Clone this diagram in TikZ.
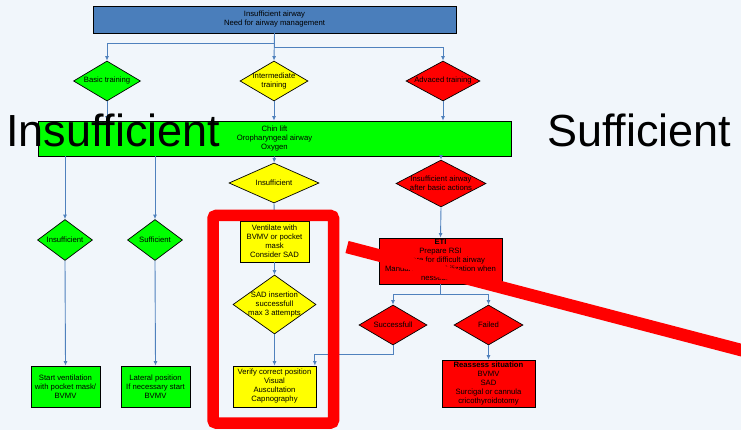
\documentclass[tikz,border=0pt]{standalone}
\usepackage{fontspec}
\setmainfont{Liberation Sans}
\usetikzlibrary{shapes.geometric,arrows.meta}

\definecolor{bgblue}{RGB}{241,246,251}
\definecolor{topblue}{RGB}{74,126,187}
\definecolor{linkblue}{RGB}{79,129,189}
\definecolor{boxgreen}{RGB}{0,255,0}
\definecolor{boxyellow}{RGB}{255,255,0}
\definecolor{boxred}{RGB}{255,0,0}

\begin{document}
\begin{tikzpicture}[x=1pt,y=-1pt,
  txt/.style={font=\fontsize{7.7}{9}\selectfont,align=center,text=black},
  box/.style={draw=black,line width=0.7pt,inner sep=0pt,txt},
  dia/.style={diamond,draw=black,line width=0.7pt,inner sep=0pt},
  conn/.style={draw=linkblue,line width=0.9pt,-{Latex[length=4.5pt,width=4pt]}},
  big/.style={font=\fontsize{45}{45}\selectfont,anchor=base west,inner sep=0pt,text=black}]
 \path[use as bounding box,fill=bgblue] (0,0) rectangle (741,430);

 % top of the chart
 \node[box,fill=topblue,minimum width=363,minimum height=27] (top) at (274.5,19.5) {Insufficient airway\\Need for airway management};
 \node[dia,fill=boxgreen,minimum width=67,minimum height=40,label={[txt]center:Basic training}] (basic) at (107,81) {};
 \node[dia,fill=boxyellow,minimum width=68,minimum height=40,label={[txt]center:Intermediate\\training}] (inter) at (274,81) {};
 \node[dia,fill=boxred,minimum width=74,minimum height=40,label={[txt]center:Advaced training}] (adv) at (443,81) {};
 \node[box,fill=boxgreen,minimum width=473,minimum height=35] (chin) at (274.5,138.5) {Chin lift\\Oropharyngeal airway\\Oxygen};

 % basic training
 \node[dia,fill=boxgreen,minimum width=55,minimum height=41,label={[txt]center:Insufficient}] (insL) at (65,240) {};
 \node[dia,fill=boxgreen,minimum width=55,minimum height=41,label={[txt]center:Sufficient}] (sufL) at (155,240) {};
 \node[box,fill=boxgreen,minimum width=69,minimum height=41] (startv) at (65.5,386.5) {Start ventilation\\with pocket mask/\\BVMV};
 \node[box,fill=boxgreen,minimum width=69,minimum height=41] (lateral) at (155.5,386.5) {Lateral position\\If necessary start\\BVMV};

 % intermediate training
 \node[dia,fill=boxyellow,minimum width=90,minimum height=40,label={[txt]center:Insufficient}] (insM) at (274,183) {};
 \node[box,fill=boxyellow,minimum width=69,minimum height=41] (vent) at (274.5,241.5) {Ventilate with\\BVMV or pocket\\mask\\Consider SAD};
 \node[dia,fill=boxyellow,minimum width=83,minimum height=59,label={[txt]center:SAD insertion\\successfull\\max 3 attempts}] (sad) at (274.5,304.5) {};
 \node[box,fill=boxyellow,minimum width=83,minimum height=41] (verify) at (274.5,386.5) {Verify correct position\\Visual\\Auscultation\\Capnography};

 % advanced training
 \node[dia,fill=boxred,minimum width=90,minimum height=47,label={[txt]center:Insufficient airway\\after basic actions}] (insR) at (441,183.5) {};
 \node[box,fill=boxred,minimum width=123,minimum height=46] (eti) at (440.5,261) {\textbf{ETI}\\Prepare RSI\\Prepare for difficult airway\\Manual in-line stabilization when\\nessessary};
 \node[dia,fill=boxred,minimum width=68,minimum height=40,label={[txt]center:Successfull}] (succ) at (393,325) {};
 \node[dia,fill=boxred,minimum width=69,minimum height=40,label={[txt]center:Failed}] (fail) at (488.5,325) {};
 \node[box,fill=boxred,minimum width=93,minimum height=47] (reassess) at (488.5,383.5) {\textbf{Reassess situation}\\BVMV\\SAD\\Surcigal or cannula\\cricothyroidotomy};

 % connectors
 \draw[conn] (top.south) -- ++(0,10) -| (basic.north);
 \draw[conn] (top.south) -- (inter.north);
 \draw[conn] (top.south) -- ++(0,14) -| (adv.north);
 \draw[conn] (basic.south) -- (basic.south |- chin.north);
 \draw[conn] (inter.south) -- (inter.south |- chin.north);
 \draw[conn] (adv.south) -- (adv.south |- chin.north);
 \draw[conn] (insL.north |- chin.south) -- (insL.north);
 \draw[conn] (sufL.north |- chin.south) -- (sufL.north);
 \draw[conn] (chin.south) -- (insM.north);
 \draw[conn] (insR.north |- chin.south) -- (insR.north);
 \draw[conn] (insL.south) -- (startv.north);
 \draw[conn] (sufL.south) -- (lateral.north);
 \draw[conn] (insM.south) -- (vent.north);
 \draw[conn] (vent.south) -- (sad.north);
 \draw[conn] (sad.south) -- (verify.north);
 \draw[conn] (insR.south) -- (eti.north);
 \draw[conn] (eti.south) -- ++(0,10) -| (succ.north);
 \draw[conn] (eti.south) -- ++(0,10) -| (fail.north);
 \draw[conn] (fail.south) -- (reassess.north);
 \draw[conn] (succ.south) -- ++(0,9) -| ([xshift=-1.5pt]verify.north east);

 % big words
 \node[big] (insword) at (6,147) {Insufficient};
 \node[big] (sufword) at (547,147) {Sufficient};

 % red marks
 \draw[boxred,line width=11.5pt,rounded corners=3pt] (213,215.5) rectangle (333.5,423);
 \draw[boxred,line width=12.5pt] (347,247) -- (760,355);
\end{tikzpicture}
\end{document}
